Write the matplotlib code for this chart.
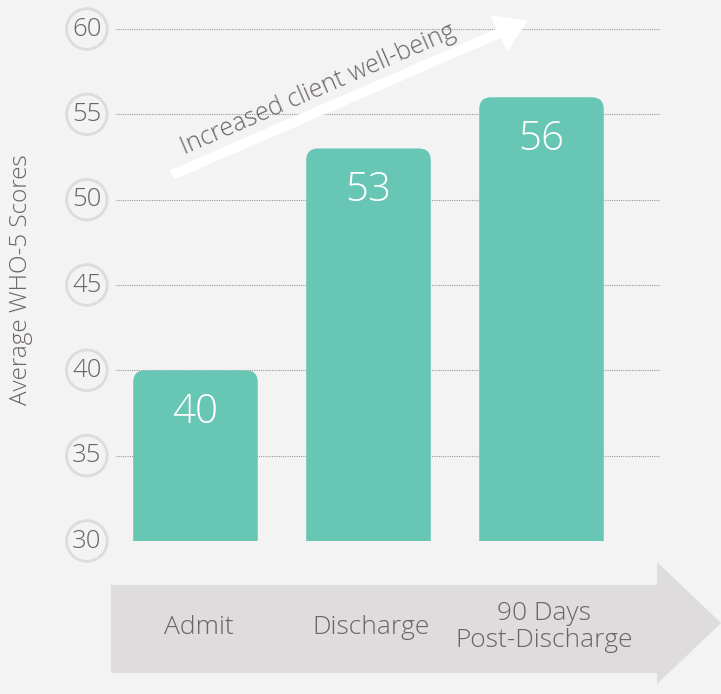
import matplotlib
matplotlib.use('Agg')
import matplotlib.pyplot as plt
from matplotlib.patches import FancyBboxPatch, Polygon, FancyArrow

categories = ['Admit', 'Discharge', '90 Days\nPost-Discharge']
scores = [40, 53, 56]
yticks = [30, 35, 40, 45, 50, 55, 60]

BG = '#f3f3f3'
TEAL = '#68c6b5'
TXT = '#6b6364'

plt.rcParams['font.family'] = ['Open Sans', 'DejaVu Sans']
FW = 'light'

fig = plt.figure(figsize=(7.21, 6.94), dpi=100, facecolor=BG)
ax = fig.add_axes([116 / 721, 1 - 541 / 694, 544 / 721, 512 / 694])
ax.set_facecolor(BG)
ax.set_xlim(-0.4595, 2.685)
ax.set_ylim(30, 60)
for s in ax.spines.values():
    s.set_visible(False)
ax.set_xticks([])
ax.set_yticks([])

# dotted grid lines
for y in yticks:
    ax.axhline(y, color='#9a9a9a', lw=0.8, ls=(0, (1, 1)), zorder=1)

# tick labels in circles
for y in yticks:
    ax.text(-0.628, y, str(y), ha='center', va='center', fontsize=18.5,
            color=TXT, fontweight=FW, clip_on=False,
            bbox=dict(boxstyle='circle,pad=0.22', fc=BG, ec='#dcdcdc', lw=2))

# bars with rounded tops (bottom corners pushed below the axis)
width = 0.72
ppx = 1 / 173          # x units per pixel
ppy = 5 / 85.4         # y units per pixel
for i, v in enumerate(scores):
    p = FancyBboxPatch((i - width / 2, 27), width, v - 27,
                       boxstyle='round,pad=0,rounding_size=%f' % (12 * ppx),
                       mutation_aspect=ppy / ppx, fc=TEAL, ec='none', zorder=2)
    ax.add_patch(p)
    p.set_clip_path(ax.patch)
    ax.text(i, v - 2.45, str(v), ha='center', va='center', fontsize=29,
            color='white', fontweight=FW, zorder=3)

ax.text(-1.01, 45.3, 'Average WHO-5 Scores', rotation=90, ha='center', va='center',
        fontsize=17.5, color=TXT, fontweight=FW, clip_on=False)

# bottom grey arrow (figure pixel coordinates)
W, H = 721, 694
pts = [(111, 585), (657, 585), (657, 562), (721, 623), (657, 684), (657, 673), (111, 673)]
fig.patches.append(Polygon([(x / W, 1 - y / H) for x, y in pts], closed=True,
                           transform=fig.transFigure, fc='#dedcdc', ec='none', zorder=0))
for i, c in enumerate(categories):
    x = ax.transData.transform((i, 0))[0] / W
    fig.text(x + 0.004, 1 - 627 / H, c, ha='center', va='center', fontsize=19,
             color=TXT, fontweight=FW, linespacing=1.1)

# white trend arrow
x0, y0, x1, y1 = 172, 175, 527, 21
fig.patches.append(FancyArrow(x0 / W, 1 - y0 / H, (x1 - x0) / W * 0.92, -(y1 - y0) / H * 0.92,
                              width=10 / H, head_width=40 / H, head_length=32 / W,
                              length_includes_head=False, transform=fig.transFigure,
                              fc='white', ec='none', zorder=5))
fig.text(318 / W, 1 - 90 / H, 'Increased client well-being', rotation=23.4,
         rotation_mode='anchor', ha='center', va='center', fontsize=18,
         color=TXT, fontweight=FW)

fig.savefig('out.png', dpi=100, facecolor=BG)
